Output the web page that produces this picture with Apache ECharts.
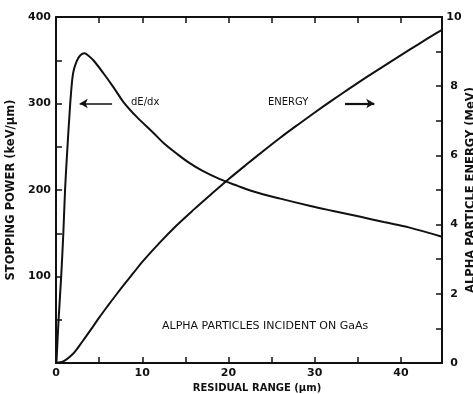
<!DOCTYPE html>
<html>
<head>
<meta charset="utf-8">
<script src="https://cdn.jsdelivr.net/npm/echarts@6/dist/echarts.min.js"></script>
<style>
  html, body { margin: 0; padding: 0; background: #fff; }
  #chart { width: 473px; height: 394px; }
</style>
</head>
<body>
<div id="chart"></div>
<script>
// Stopping power dE/dx (keV/um) versus residual range (um)
const stoppingRange = [0.05, 0.3, 0.6, 0.85, 1.05, 1.3, 1.55, 1.75, 2.0, 2.4, 2.8, 3.3, 3.8, 4.33, 5.5, 6.65, 7.8, 9.36, 11.3, 12.5, 14, 15.5, 17, 19, 21, 23, 26, 29.5, 32, 35.3, 38, 41, 44.75];
const stoppingPower = [0, 50, 100, 150, 200, 245, 285, 313, 336, 349, 355.5, 358, 355, 350, 335, 319, 302, 284.5, 266, 254, 242, 231, 222, 212.5, 205, 198, 190, 181.5, 176, 169, 163, 156.5, 146];

// Alpha particle energy (MeV) versus residual range (um)
const energyRange = [0, 0.5, 1, 1.6, 2.2, 3, 4, 5, 6, 7, 8, 9, 10, 12, 14, 16, 18, 20, 22, 24, 26, 28, 30, 32, 34, 36, 38, 40, 42, 44, 44.75];
const energyMeV = [0, 0.02, 0.07, 0.18, 0.33, 0.6, 0.95, 1.31, 1.65, 1.98, 2.3, 2.61, 2.92, 3.47, 3.98, 4.44, 4.88, 5.31, 5.72, 6.12, 6.51, 6.88, 7.24, 7.59, 7.93, 8.26, 8.58, 8.9, 9.21, 9.52, 9.63];

// Axis ranges and labelled ticks
const rangeMax = 44.75;
const rangeLabels = [0, 10, 20, 30, 40];
const powerLabels = [100, 200, 300, 400];
const energyLabels = [0, 2, 4, 6, 8, 10];

const FONT = 'DejaVu Sans';
const ink = '#111';

const pairs = (xs, ys) => xs.map((x, i) => [x, ys[i]]);

const chart = echarts.init(document.getElementById('chart'), null, { renderer: 'canvas' });

const axisTickStyle = { show: true, inside: true, length: 6, lineStyle: { color: ink, width: 1.5 } };

chart.setOption({
  animation: false,
  backgroundColor: '#fff',
  grid: { left: 56, right: 31, top: 17, bottom: 31, containLabel: false, outerBoundsMode: 'none' },
  xAxis: [
    {
      type: 'value', min: 0, max: rangeMax, interval: 5, position: 'bottom',
      axisLine: { show: true, onZero: false, lineStyle: { color: ink, width: 2 } },
      axisTick: axisTickStyle,
      splitLine: { show: false },
      axisLabel: {
        color: ink, fontFamily: FONT, fontWeight: 'bold', fontSize: 11, margin: 5,
        showMaxLabel: false,
        formatter: v => rangeLabels.includes(v) ? String(v) : ''
      },
      name: 'RESIDUAL RANGE (\u00b5m)', nameLocation: 'middle', nameGap: 14,
      nameTextStyle: { color: ink, fontFamily: FONT, fontWeight: 'bold', fontSize: 10, padding: [0, 0, 0, 16], verticalAlign: 'top' }
    },
    {
      type: 'value', min: 0, max: rangeMax, interval: 5, position: 'top',
      axisLine: { show: true, onZero: false, lineStyle: { color: ink, width: 2 } },
      axisTick: axisTickStyle,
      axisLabel: { show: false },
      splitLine: { show: false }
    }
  ],
  yAxis: [
    {
      type: 'value', min: 0, max: 400, interval: 50, position: 'left',
      axisLine: { show: true, onZero: false, lineStyle: { color: ink, width: 2 } },
      axisTick: axisTickStyle,
      splitLine: { show: false },
      axisLabel: {
        color: ink, fontFamily: FONT, fontWeight: 'bold', fontSize: 11, margin: 5,
        formatter: v => powerLabels.includes(v) ? String(v) : ''
      },
      name: 'STOPPING POWER (keV/\u00b5m)', nameLocation: 'middle', nameGap: 33,
      nameTextStyle: { color: ink, fontFamily: FONT, fontWeight: 'bold', fontSize: 11.5 }
    },
    {
      type: 'value', min: 0, max: 10, interval: 1, position: 'right',
      axisLine: { show: true, onZero: false, lineStyle: { color: ink, width: 2 } },
      axisTick: axisTickStyle,
      splitLine: { show: false },
      axisLabel: {
        color: ink, fontFamily: FONT, fontWeight: 'bold', fontSize: 11, margin: 12, align: 'center',
        formatter: v => energyLabels.includes(v) ? String(v) : ''
      },
      name: 'ALPHA PARTICLE ENERGY (MeV)', nameLocation: 'middle', nameGap: 23, nameMoveOverlap: false,
      nameTextStyle: { color: ink, fontFamily: FONT, fontWeight: 'bold', fontSize: 11.5 }
    }
  ],
  series: [
    {
      name: 'dE/dx', type: 'line', xAxisIndex: 0, yAxisIndex: 0,
      data: pairs(stoppingRange, stoppingPower),
      smooth: 0.35, showSymbol: false,
      lineStyle: { color: ink, width: 2 },
      markLine: {
        silent: true, symbol: ['none', 'arrow'], symbolSize: [7, 8],
        label: { show: false },
        lineStyle: { color: ink, type: 'solid', width: 1.5 },
        data: [
          [{ coord: [6.5, 300] }, { coord: [2.75, 300] }],
          [{ coord: [33.5, 300], lineStyle: { width: 2.2 } }, { coord: [36.9, 300] }]
        ]
      }
    },
    {
      name: 'ENERGY', type: 'line', xAxisIndex: 0, yAxisIndex: 1,
      data: pairs(energyRange, energyMeV),
      smooth: 0.35, showSymbol: false,
      lineStyle: { color: ink, width: 2 }
    }
  ],
  graphic: [
    { type: 'text', left: 131, top: 97, style: { text: 'dE/dx', fill: ink, font: '10px "DejaVu Sans"' } },
    { type: 'text', left: 268, top: 97, style: { text: 'ENERGY', fill: ink, font: '10px "DejaVu Sans"' } },
    { type: 'text', left: 162, top: 321, style: { text: 'ALPHA PARTICLES INCIDENT ON GaAs', fill: ink, font: '11px "DejaVu Sans"' } }
  ]
});
</script>
</body>
</html>
